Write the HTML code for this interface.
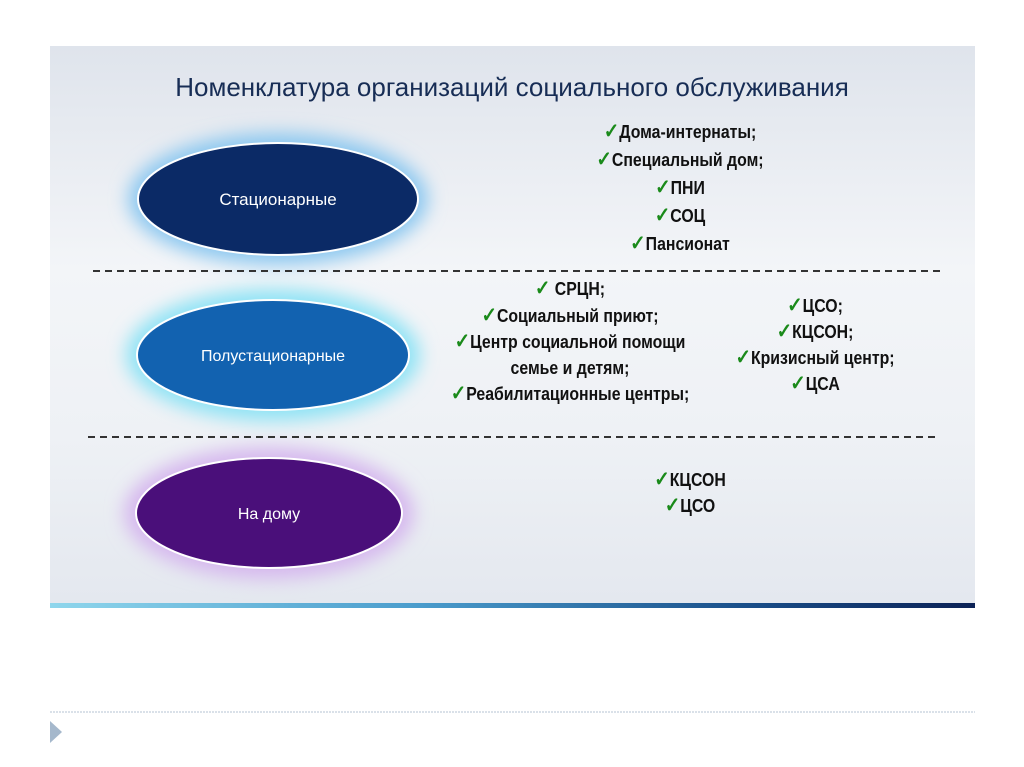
<!DOCTYPE html>
<html><head><meta charset="utf-8"><style>
body{margin:0;width:1024px;height:767px;background:#fff;position:relative;overflow:hidden;font-family:"Liberation Sans",sans-serif}
.panel{position:absolute;left:50px;top:46px;width:925px;height:557px;background:linear-gradient(180deg,#dfe4ec 0%,#f3f5f8 40%,#eef1f5 70%,#e4e8ef 100%)}
.bar{position:absolute;left:50px;top:603px;width:925px;height:5px;background:linear-gradient(90deg,#8fd6ec,#4a9ccc 40%,#1a4f8a 75%,#0c2256)}
.t{position:absolute;color:#111;font-weight:bold;font-size:18px;white-space:nowrap;transform:scaleX(.88);transform-origin:center}
.ck{color:#1a8a1a;font-size:21px}
.title{position:absolute;left:0;width:1024px;top:72px;text-align:center;font-size:26px;color:#172d55}
</style></head><body>
<div class="panel"></div>
<div class="bar"></div>
<div class="title">Номенклатура организаций социального обслуживания</div>
<svg width="1024" height="767" style="position:absolute;left:0;top:0">
<defs>
<filter id="b" x="-30%" y="-50%" width="160%" height="200%"><feGaussianBlur stdDeviation="9"/></filter>
</defs>
<ellipse cx="278" cy="199" rx="150" ry="66" fill="#8cc8f0" filter="url(#b)"/>
<ellipse cx="278" cy="199" rx="140" ry="56" fill="#0b2a66" stroke="#fff" stroke-width="2"/>
<ellipse cx="273" cy="355" rx="147" ry="66" fill="#8fe3f5" filter="url(#b)"/>
<ellipse cx="273" cy="355" rx="136" ry="55" fill="#1262b0" stroke="#fff" stroke-width="2"/>
<ellipse cx="269" cy="513" rx="145" ry="66" fill="#d6b8ee" filter="url(#b)"/>
<ellipse cx="269" cy="513" rx="133" ry="55" fill="#4a0f7a" stroke="#fff" stroke-width="2"/>
<text x="278" y="205" fill="#fff" font-size="17" text-anchor="middle" font-family="Liberation Sans">Стационарные</text>
<text x="273" y="361" fill="#fff" font-size="16" text-anchor="middle" font-family="Liberation Sans">Полустационарные</text>
<text x="269" y="519" fill="#fff" font-size="16" text-anchor="middle" font-family="Liberation Sans">На дому</text>
<line x1="93" y1="271" x2="945" y2="271" stroke="#333" stroke-width="2" stroke-dasharray="7,5"/>
<line x1="88" y1="437" x2="940" y2="437" stroke="#333" stroke-width="2" stroke-dasharray="7,5"/>
<line x1="50" y1="712" x2="975" y2="712" stroke="#b5c3d3" stroke-width="1" stroke-dasharray="2,1"/>
<polygon points="50,721 62,732 50,743" fill="#a5b8cc"/>
</svg>
<div class="t" style="left:540px;width:280px;text-align:center;top:118px;line-height:27px">
<span class="ck">✓</span>Дома-интернаты;<br><span class="ck">✓</span>Специальный дом;<br><span class="ck">✓</span>ПНИ<br><span class="ck">✓</span>СОЦ<br><span class="ck">✓</span>Пансионат</div>
<div class="t" style="left:410px;width:320px;text-align:center;top:276px;line-height:25.5px">
<span class="ck">✓</span> СРЦН;<br><span class="ck">✓</span>Социальный приют;<br><span class="ck">✓</span>Центр социальной помощи<br>семье и детям;<br><span class="ck">✓</span>Реабилитационные центры;</div>
<div class="t" style="left:705px;width:220px;text-align:center;top:293px;line-height:26px">
<span class="ck">✓</span>ЦСО;<br><span class="ck">✓</span>КЦСОН;<br><span class="ck">✓</span>Кризисный центр;<br><span class="ck">✓</span>ЦСА</div>
<div class="t" style="left:610px;width:160px;text-align:center;top:467px;line-height:26px">
<span class="ck">✓</span>КЦСОН<br><span class="ck">✓</span>ЦСО</div>
</body></html>
